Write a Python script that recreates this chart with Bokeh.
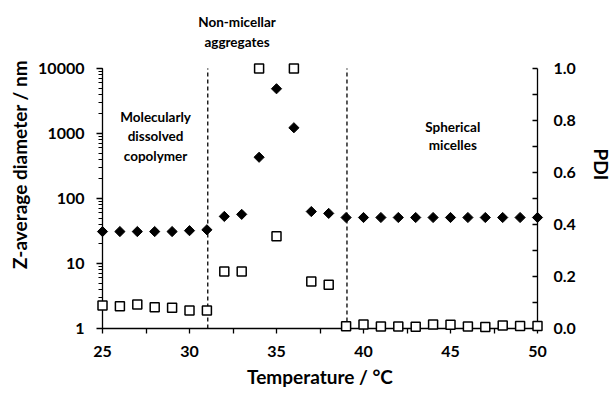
import math
from bokeh.plotting import figure
from bokeh.models import Range1d, LinearAxis, FixedTicker, Label, LogTicker, LinearScale
from bokeh.embed import file_html
from bokeh.resources import INLINE

temperature = list(range(25, 51))
z_average = [31, 31, 31, 31, 31, 32, 33,
             53, 57,
             431, 4880, 1226,
             63, 59,
             51, 51, 51, 51, 51, 51, 51, 51, 51, 51, 51, 51]
pdi = [0.088, 0.086, 0.092, 0.082, 0.080, 0.069, 0.069,
       0.219, 0.219,
       1.0, 0.355, 1.0,
       0.181, 0.168,
       0.009, 0.015, 0.008, 0.008, 0.007, 0.015, 0.014, 0.008, 0.006, 0.012, 0.010, 0.010]
boundaries = [31.05, 39.05]
x_ticks = [25, 30, 35, 40, 45, 50]
x_minor = [27.5, 32.5, 37.5, 42.5, 47.5]
pdi_ticks = [0.0, 0.2, 0.4, 0.6, 0.8, 1.0]
pdi_minor = [0.1, 0.3, 0.5, 0.7, 0.9]

FONT = "Lato"
W, H = 615, 394
BL, BR, BT, BB = 102, 77, 0, 66
TOP_EXTRA = 68          # px of frame above the 10000 / 1.0 line
fh = H - BT - BB
data_px = fh - TOP_EXTRA
dec_px = data_px / 4.0

p = figure(width=W, height=H, output_backend="svg", toolbar_location=None,
           y_axis_type="log",
           x_range=Range1d(25, 50),
           y_range=Range1d(1, 10 ** (4 + TOP_EXTRA / dec_px)),
           min_border_left=BL, min_border_right=BR, min_border_top=BT, min_border_bottom=BB)
p.extra_y_ranges = {"pdi": Range1d(0, 1 + TOP_EXTRA / data_px)}
p.extra_y_scales = {"pdi": LinearScale()}
p.outline_line_color = None
p.xgrid.visible = False
p.ygrid.visible = False
p.background_fill_color = "white"
p.border_fill_color = "white"

tick_font = dict(major_label_text_font=FONT, major_label_text_font_style="bold",
                 major_label_text_font_size="16px", major_label_text_color="black",
                 axis_label_text_font=FONT, axis_label_text_font_style="bold",
                 axis_label_text_font_size="19px", axis_label_text_color="black")

xa = p.xaxis[0]
xa.ticker = FixedTicker(ticks=x_ticks, minor_ticks=x_minor)
xa.major_tick_in = 0
xa.major_tick_out = 5
xa.minor_tick_in = 0
xa.minor_tick_out = 5
xa.major_label_standoff = 12
xa.axis_line_width = 1.3
xa.major_tick_line_width = 1.3
xa.minor_tick_line_width = 1.3
xa.axis_label = "Temperature / °C"
xa.axis_label_standoff = 5
for k, v in tick_font.items():
    setattr(xa, k, v)

ya = p.yaxis[0]
ya.ticker = LogTicker(num_minor_ticks=10)
ya.bounds = (1, 10000)
ya.major_tick_in = 0
ya.major_tick_out = 6
ya.minor_tick_in = 0
ya.minor_tick_out = 4
ya.major_label_standoff = 12
ya.axis_line_width = 1.3
ya.major_tick_line_width = 1.3
ya.axis_label = "Z-average diameter / nm"
ya.axis_label_standoff = 4
for k, v in tick_font.items():
    setattr(ya, k, v)
ya.major_label_overrides = {1: "1", 10: "10", 100: "100", 1000: "1000", 10000: "10000"}

ra = LinearAxis(y_range_name="pdi",
                ticker=FixedTicker(ticks=pdi_ticks, minor_ticks=pdi_minor))
ra.bounds = (0, 1)
ra.major_tick_in = 5
ra.major_tick_out = 0
ra.minor_tick_in = 5
ra.minor_tick_out = 0
ra.major_label_standoff = 16
ra.axis_line_width = 1.3
ra.major_tick_line_width = 1.3
ra.minor_tick_line_width = 1.3
ra.axis_label = "PDI"
ra.axis_label_standoff = 11
ra.major_label_overrides = {t: f"{t:.1f}" for t in pdi_ticks}
for k, v in tick_font.items():
    setattr(ra, k, v)
p.add_layout(ra, "right")

# boundary dashed lines
p.segment(x0=boundaries, x1=boundaries, y0=[0, 0], y1=[1, 1], y_range_name="pdi",
          line_color="black", line_width=1.3, line_dash="4 3")

# PDI squares
p.scatter(temperature, pdi, y_range_name="pdi", marker="square", size=9,
          fill_color="white", line_color="black", line_width=1.5, level="overlay")
# Z-average diamonds
p.scatter(temperature, z_average, marker="square", angle=math.pi / 4, size=7.2,
          fill_color="black", line_color="black", level="overlay")

def lab(x, y, text, size="13.5px"):
    p.add_layout(Label(x=x, y=y, y_range_name="pdi", text=text, text_font=FONT,
                       text_font_style="bold", text_font_size=size, text_color="black",
                       text_align="center", text_baseline="middle"))

lab(28.05, 0.813, "Molecularly")
lab(28.05, 0.740, "dissolved")
lab(28.05, 0.665, "copolymer")
lab(32.73, 1.178, "Non-micellar")
lab(32.73, 1.101, "aggregates")
lab(45.13, 0.774, "Spherical")
lab(45.13, 0.704, "micelles")

open("out.html", "w").write(file_html(p, INLINE))
